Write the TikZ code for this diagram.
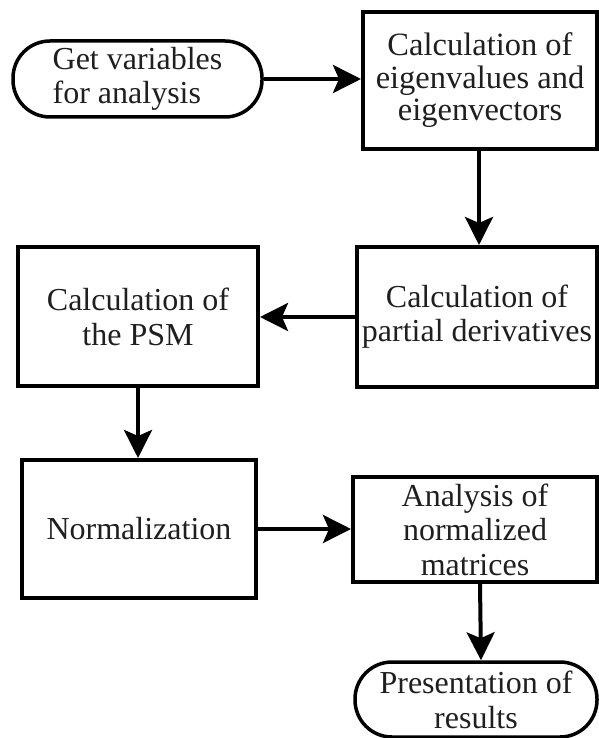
\documentclass[tikz,border=0pt]{standalone}
\usepackage{fontspec}
\setmainfont{Liberation Serif}
\newfontfamily\tnr{Liberation Serif}
\usetikzlibrary{arrows.meta}
\begin{document}
\begin{tikzpicture}[x=1pt,y=1pt,
  txt/.style={font=\tnr\fontsize{32pt}{34pt}\selectfont, text=black!88, inner sep=0pt},
  stepbox/.style={txt, draw=black, line width=4pt, fill=white, rectangle, align=center},
  pill/.style={txt, draw=black, line width=3.5pt, fill=white, rectangle, rounded corners=37pt},
  arr/.style={line width=4pt, -{Stealth[length=28pt,width=28pt,inset=6pt]}}]
\useasboundingbox (0,0) rectangle (598,-738);
\fill[white] (0,0) rectangle (598,-738);

\node[pill, minimum width=249pt, minimum height=76pt, align=left] (p1) at (137.5,-79)
  {Get variables\\for analysis};
\node[stepbox, minimum width=234pt, minimum height=137pt, font=\tnr\fontsize{32.5pt}{32.5pt}\selectfont] (b1) at (480,-80.5)
  {Calculation of\\eigenvalues and\\eigenvectors};
\node[stepbox, minimum width=240pt, minimum height=140pt] (b2) at (477,-317)
  {Calculation of\\partial derivatives};
\node[stepbox, minimum width=240pt, minimum height=139pt, font=\tnr\fontsize{32pt}{35pt}\selectfont] (psm) at (138,-316.5)
  {Calculation of\\the PSM};
\node[stepbox, minimum width=234pt, minimum height=138pt] (norm) at (139,-529)
  {Normalization};
\node[stepbox, minimum width=244pt, minimum height=105pt, font=\tnr\fontsize{32pt}{34.5pt}\selectfont] (an) at (475,-529.5)
  {Analysis of\\normalized\\matrices};
\node[pill, minimum width=242pt, minimum height=75pt, align=center, font=\tnr\fontsize{32pt}{35pt}\selectfont] (pres) at (476,-699.5)
  {Presentation of\\results};

\draw[arr] (p1.east) -- (p1.east -| b1.west);
\draw[arr] ([xshift=-1pt]b1.south) -- ([xshift=-1pt]b1.south |- b2.north);
\draw[arr] (b2.west) -- (b2.west -| psm.east);
\draw[arr] (psm.south) -- (psm.south |- norm.north);
\draw[arr] (norm.east) -- (norm.east -| an.west);
\draw[arr] ([xshift=5pt]an.south) -- ([xshift=5pt]pres.north);
\end{tikzpicture}
\end{document}
